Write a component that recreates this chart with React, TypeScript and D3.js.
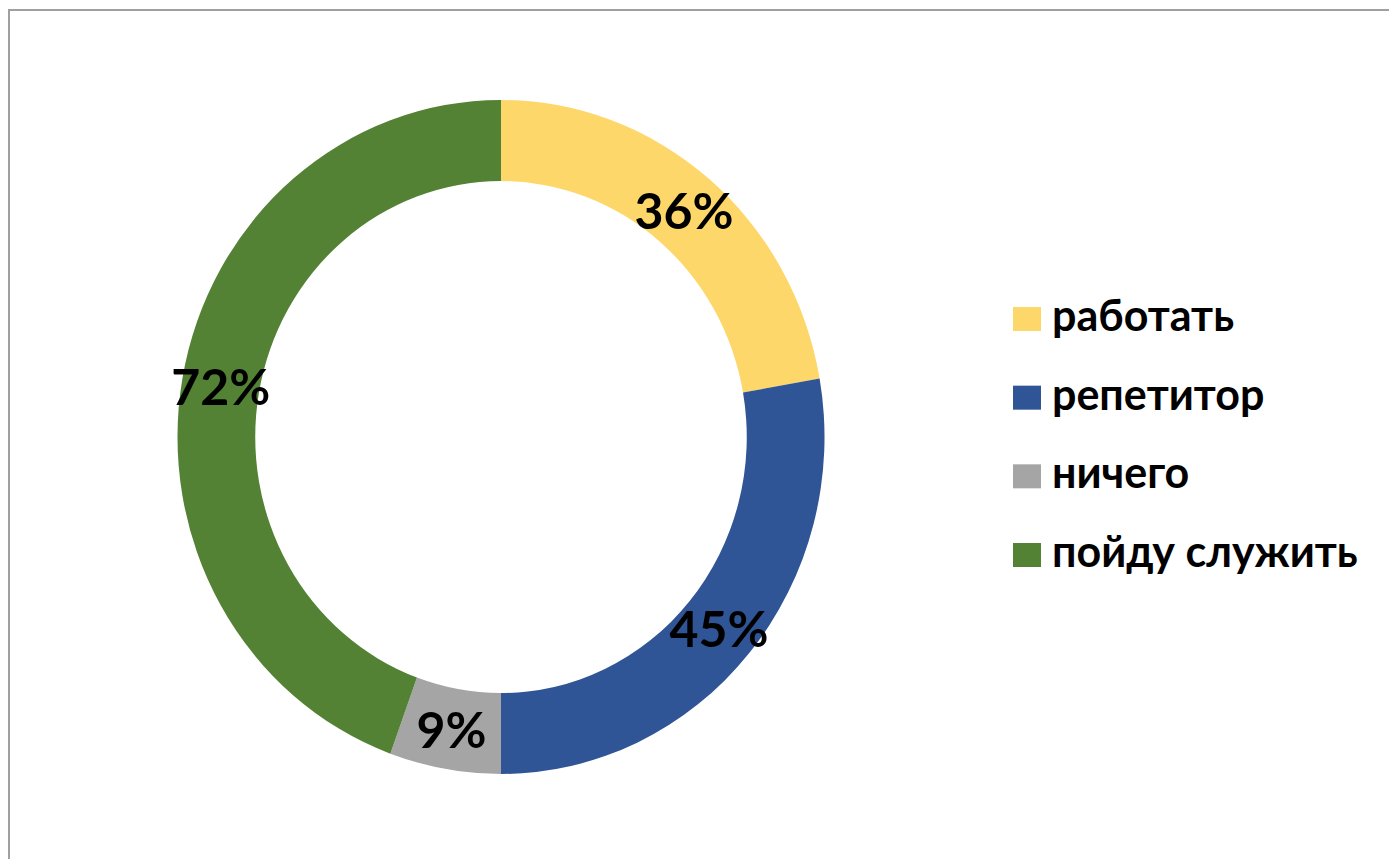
import { useEffect, useRef } from "react";
import * as d3 from "d3";

// Slice labels, values (shown as-is with %) and fill colours
const CATEGORIES = ["работать", "репетитор", "ничего", "пойду служить"];
const VALUES = [36, 45, 9, 72];
const COLORS = ["#fdd769", "#2f5597", "#a5a5a5", "#548235"];

const W = 1389;
const H = 859;

// Donut geometry (the original is slightly squeezed horizontally)
const CX = 501;
const CY = 437;
const R_OUT = 337;
const R_IN = 256;
const X_SQUEEZE = 0.96;

const FONT = "Lato, 'Open Sans', sans-serif";

export default function App() {
  const svgRef = useRef<SVGSVGElement>(null);

  useEffect(() => {
    const svg = d3.select(svgRef.current);
    svg.selectAll("*").remove();

    // Frame — only the top and left edges are visible in the original
    svg.append("rect")
      .attr("x", 9).attr("y", 10)
      .attr("width", W + 20).attr("height", H + 20)
      .attr("fill", "white")
      .attr("stroke", "#a0a0a0")
      .attr("stroke-width", 2);

    const data = CATEGORIES.map((name, i) => ({ name, value: VALUES[i], color: COLORS[i] }));

    const pie = d3.pie<typeof data[number]>()
      .value((d) => d.value)
      .sort(null);

    const arc = d3.arc<d3.PieArcDatum<typeof data[number]>>()
      .innerRadius(R_IN)
      .outerRadius(R_OUT);

    const arcs = pie(data);

    const g = svg.append("g")
      .attr("transform", `translate(${CX},${CY}) scale(${X_SQUEEZE},1)`);

    g.selectAll("path")
      .data(arcs)
      .join("path")
      .attr("d", arc)
      .attr("fill", (d) => d.data.color);

    // Percent labels at slice centroids (drawn unscaled)
    const lbl = svg.append("g");
    lbl.selectAll("text")
      .data(arcs)
      .join("text")
      .attr("x", (d) => CX + arc.centroid(d)[0] * X_SQUEEZE)
      .attr("y", (d) => CY + arc.centroid(d)[1])
      .attr("text-anchor", "middle")
      .attr("dominant-baseline", "central")
      .attr("font-family", FONT)
      .attr("font-weight", 700)
      .attr("font-size", 50)
      .attr("fill", "#000")
      .text((d) => `${d.data.value}%`);

    // Legend
    const legendY = d3.scalePoint<string>()
      .domain(CATEGORIES)
      .range([319, 555]);

    const leg = svg.append("g")
      .selectAll("g")
      .data(data)
      .join("g")
      .attr("transform", (d) => `translate(1013,${legendY(d.name)})`);

    leg.append("rect")
      .attr("x", 0).attr("y", -12)
      .attr("width", 28).attr("height", 24)
      .attr("fill", (d) => d.color);

    leg.append("text")
      .attr("x", 39)
      .attr("y", 12)
      .attr("font-family", FONT)
      .attr("font-weight", 700)
      .attr("font-size", 43)
      .attr("fill", "#000")
      .text((d) => d.name);
  }, []);

  return (
    <svg
      ref={svgRef}
      width={W}
      height={H}
      style={{ position: "absolute", left: 0, top: 0, display: "block" }}
    />
  );
}
